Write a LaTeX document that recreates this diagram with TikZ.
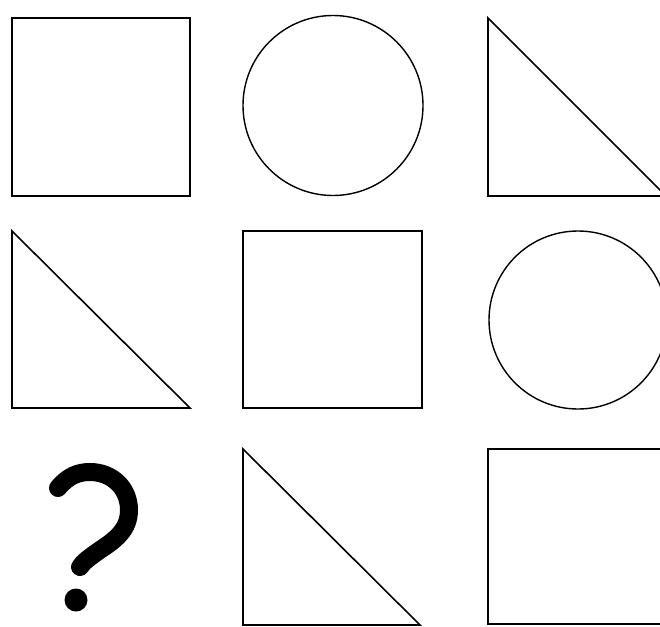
\documentclass[tikz,border=0pt]{standalone}
\begin{document}
\begin{tikzpicture}[x=1pt,y=-1pt,
  boxline/.style={draw=black,line width=2pt},
  ringline/.style={draw=black,line width=1.4pt},
  triline/.style={draw=black,line width=1.6pt,line join=miter},
  qmark/.style={draw=black,line width=18pt,line cap=round}]
\useasboundingbox[fill=white] (0,0) rectangle (660,626);
\begin{scope}
\clip (0,0) rectangle (660,626);
% row 1
\draw[boxline] (12,18) rectangle (190,196);
\node[circle,ringline,minimum size=180pt,inner sep=0pt] (c1) at (333,105.5) {};
\draw[triline] (488,18) coordinate (t1a) -- (488,196) coordinate (t1b) -- (666,196) coordinate (t1c) -- cycle;
% row 2
\draw[triline] (12,231) coordinate (t2a) -- (12,408) coordinate (t2b) -- (190,408) coordinate (t2c) -- cycle;
\draw[boxline] (243,231) rectangle (422,408);
\node[circle,ringline,minimum size=178pt,inner sep=0pt] (c2) at (578,320) {};
% row 3
\draw[qmark] (58,488) .. controls (68,476) and (78,472) .. (90,472)
  .. controls (112,472) and (129,488) .. (129,510)
  .. controls (129,530) and (115,540) .. (100,550)
  .. controls (90,557) and (83,562) .. (80,567);
\fill[black] (76,600) circle (11.5);
\draw[triline] (243,449) coordinate (t3a) -- (243,625) coordinate (t3b) -- (420,625) coordinate (t3c) -- cycle;
\draw[boxline] (488,449) rectangle (680,624);
\end{scope}
\end{tikzpicture}
\end{document}
